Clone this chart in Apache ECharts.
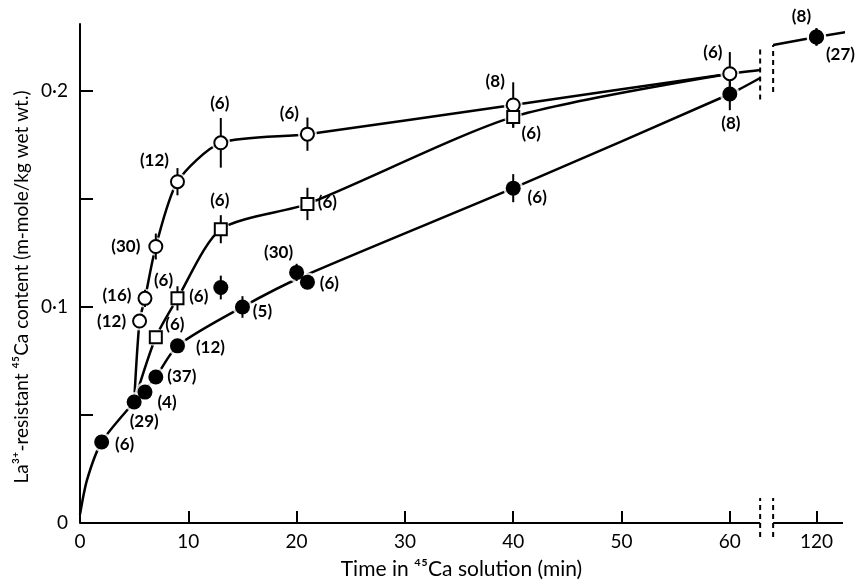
<!DOCTYPE html>
<html>
<head>
<meta charset="utf-8">
<script src="https://cdn.jsdelivr.net/npm/echarts@6/dist/echarts.min.js"></script>
<style>html,body{margin:0;background:#fff}#main{width:856px;height:585px}</style>
</head>
<body>
<div id="main"></div>
<script>
// x axis: 0-60 min linear, then a break, 120 min drawn at axis position 68
var BREAK_LEFT = 62.8, BREAK_RIGHT = 64.0, POS_120 = 68, X_END = 70.45;
function xPos(t) { return t <= BREAK_LEFT ? t : POS_120 + (t - 120) / 10; }

var xTicks = [0, 10, 20, 30, 40, 50, 60, 120];
var yTicks = [0, 0.05, 0.1, 0.15, 0.2];
var yLabels = [0, 0.1, 0.2];

// open circles
var openTime = [5.5, 6, 7, 9, 13, 21, 40, 60, 120];
var openVal = [0.0935, 0.104, 0.128, 0.158, 0.176, 0.180, 0.1935, 0.208, 0.225];
var openErr = [0.003, 0.004, 0.006, 0.0063, 0.0115, 0.0077, 0.0105, 0.010, 0.004];
var openN = [12, 16, 30, 12, 6, 6, 8, 6, 8];

// open squares
var squareTime = [7, 9, 13, 21, 40];
var squareVal = [0.086, 0.104, 0.136, 0.1477, 0.188];
var squareErr = [0, 0.0056, 0.0065, 0.0075, 0.005];
var squareN = [6, 6, 6, 6, 6];

// filled circles
var filledTime = [2, 5, 6, 7, 9, 13, 15, 20, 21, 40, 60, 120];
var filledVal = [0.0375, 0.056, 0.0606, 0.0676, 0.082, 0.109, 0.100, 0.116, 0.1115, 0.155, 0.1986, 0.225];
var filledErr = [0, 0, 0, 0, 0, 0.0055, 0.005, 0.004, 0, 0.0065, 0.0075, 0.004];
var filledN = [6, 29, 4, 37, 12, 6, 5, 30, 6, 6, 8, 27];

// drawn curves (time, value)
var openCurve = [[5, 0.056], [5.5, 0.0935], [6, 0.104], [7, 0.128], [9, 0.158], [13, 0.176], [21, 0.180], [40, 0.1935], [60, 0.208], [62.8, 0.2097]];
var squareCurve = [[5, 0.056], [7, 0.086], [9, 0.104], [13, 0.136], [21, 0.1477], [40, 0.188], [60, 0.208]];
var filledCurve = [[0, 0.004], [0.65, 0.02], [2, 0.0375], [5, 0.056], [7, 0.0676], [9, 0.082], [15, 0.100], [20.5, 0.114], [40, 0.155], [60, 0.1986], [62.8, 0.206]];
var lateCurve = [[80, 0.2213], [120, 0.225], [156, 0.228]];

// label offsets (px) for the (n) numbers
var openOffset = [[-28, 0], [-28, -3], [-30, 0], [-23, -21], [-1, -39], [-18, -21], [-18, -23], [-17, -21], [-15, -20]];
var squareOffset = [[19, -13], [-14, -18], [-1, -29], [20, -1], [18, 17]];
var filledOffset = [[23, 3], [10, 19], [22, 10], [26, 0], [33, 2], [-22, 9], [20, 5], [-18, -20], [22, 1], [24, 9], [1, 30], [24, 18]];

var FONT = 'Lato';
var chart = echarts.init(document.getElementById('main'));

function curveData(c) { return c.map(function (p) { return [xPos(p[0]), p[1]]; }); }
function errData(times, vals, errs) {
    return times.map(function (t, i) { return [xPos(t), vals[i] - errs[i], vals[i] + errs[i]]; })
        .filter(function (d) { return d[2] > d[1]; });
}
function vline(width, dash) {
    return function (params, api) {
        var a = api.coord([api.value(0), api.value(1)]);
        var b = api.coord([api.value(0), api.value(2)]);
        return { type: 'line', shape: { x1: a[0], y1: a[1], x2: b[0], y2: b[1] },
            style: { stroke: '#000', lineWidth: width, lineDash: dash } };
    };
}
function curve(c, smooth) {
    return { type: 'line', data: curveData(c), smooth: smooth, symbol: 'none',
        z: 1, silent: true, clip: false, lineStyle: { color: '#000', width: 2.5 } };
}
function halo(times, vals, size) {
    return { type: 'scatter', symbol: 'circle', symbolSize: size, z: 2, silent: true,
        itemStyle: { color: '#fff' },
        data: times.map(function (t, i) { return [xPos(t), vals[i]]; }) };
}
function markers(times, vals, ns, offs, symbol, size, fill) {
    return {
        type: 'scatter', symbol: symbol, symbolSize: size, z: 4, silent: true,
        itemStyle: { color: fill, borderColor: '#000', borderWidth: fill === '#fff' ? 2 : 0, opacity: 1 },
        label: { show: true, position: 'inside', color: '#000', fontFamily: FONT, fontSize: 17, fontWeight: 'bold',
            formatter: function (p) { return '(' + ns[p.dataIndex] + ')'; } },
        data: times.map(function (t, i) { return { value: [xPos(t), vals[i]], label: { offset: offs[i] } }; })
    };
}

var option = {
    animation: false,
    grid: { left: 80, right: 13, top: 24, bottom: 62, outerBoundsMode: 'none' },
    // y axis title, placed a little below the axis middle as in the figure
    graphic: [{
        type: 'text', x: 22, y: 287, rotation: Math.PI / 2,
        style: { text: 'La³⁺-resistant ⁴⁵Ca content (m-mole/kg wet wt.)', fill: '#000',
            font: '19px Lato', align: 'center', verticalAlign: 'middle' }
    }],
    xAxis: {
        type: 'value', min: 0, max: X_END,
        name: 'Time in ⁴⁵Ca solution (min)', nameLocation: 'middle', nameGap: 36,
        nameTextStyle: { color: '#000', fontFamily: FONT, fontSize: 21 },
        axisLine: { show: false },
        axisTick: { show: true, inside: true, length: 12, lineStyle: { color: '#000', width: 2 },
            customValues: xTicks.map(xPos) },
        axisLabel: { color: '#000', fontFamily: FONT, fontSize: 19, margin: 9,
            customValues: xTicks.map(xPos),
            formatter: function (v) { return v === POS_120 ? '120' : String(v); } },
        splitLine: { show: false }
    },
    yAxis: {
        type: 'value', min: 0, max: 0.231,
        axisLine: { show: true, lineStyle: { color: '#000', width: 2 } },
        axisTick: { show: true, inside: true, length: 13, lineStyle: { color: '#000', width: 2 },
            customValues: yTicks },
        axisLabel: { color: '#000', fontFamily: FONT, fontSize: 19, margin: 12,
            customValues: yLabels,
            formatter: function (v) { return v === 0 ? '0' : v.toFixed(1).replace('.', '·'); } },
        splitLine: { show: false }
    },
    series: [
        // x axis line, broken
        { type: 'line', symbol: 'none', z: 1, silent: true, clip: false, connectNulls: false,
          lineStyle: { color: '#000', width: 2 },
          data: [[0, 0], [BREAK_LEFT, 0], [63.4, '-'], [BREAK_RIGHT, 0], [X_END, 0]] },
        // break marks on axis and on the curve
        { type: 'custom', z: 3, silent: true, clip: false, renderItem: vline(2, [5, 4]),
          encode: { x: 0, y: [1, 2] },
          data: [[BREAK_LEFT, -0.0065, 0.0116], [BREAK_RIGHT, -0.0065, 0.0116],
                 [BREAK_LEFT, 0.196, 0.2199], [BREAK_RIGHT, 0.1995, 0.2213]] },
        curve(openCurve, 0.25),
        curve(squareCurve, 0.25),
        curve(filledCurve, 0.25),
        curve(lateCurve, false),
        halo(openTime, openVal, 19),
        halo(squareTime, squareVal, 18),
        halo(filledTime, filledVal, 20),
        { type: 'custom', z: 3, silent: true, clip: false, renderItem: vline(2),
          encode: { x: 0, y: [1, 2] },
          data: errData(openTime, openVal, openErr)
              .concat(errData(squareTime, squareVal, squareErr))
              .concat(errData(filledTime, filledVal, filledErr)) },
        markers(openTime, openVal, openN, openOffset, 'circle', 13, '#fff'),
        markers(squareTime, squareVal, squareN, squareOffset, 'rect', 12, '#fff'),
        markers(filledTime, filledVal, filledN, filledOffset, 'circle', 15, '#000')
    ]
};

chart.setOption(option);
window.addEventListener('resize', function () { chart.resize(); });
</script>
</body>
</html>
